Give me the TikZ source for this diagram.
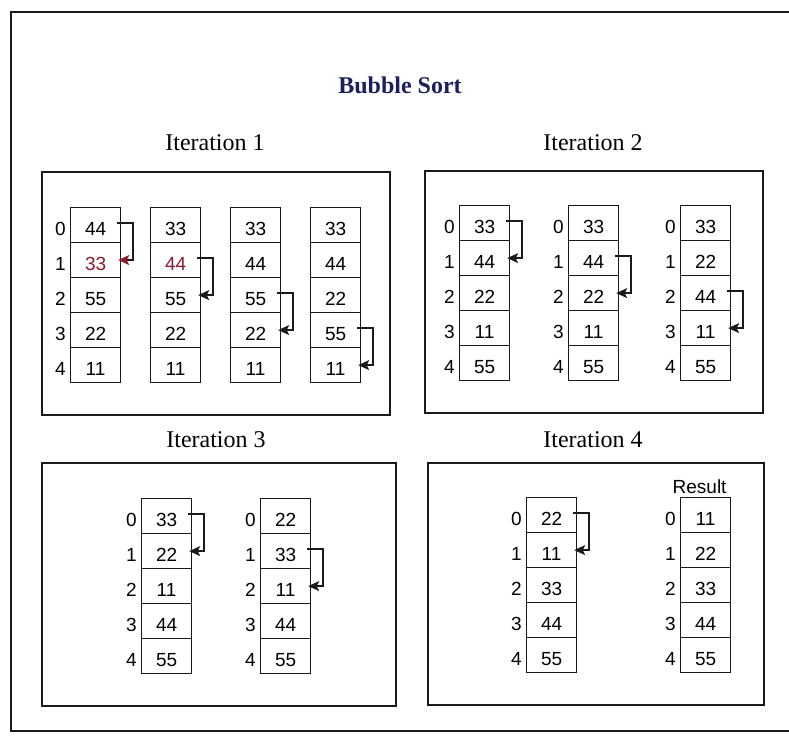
\documentclass[tikz,border=0pt]{standalone}
\usepackage{fontspec}
\setmainfont{Liberation Serif}
\setsansfont{Liberation Sans}
\usetikzlibrary{arrows.meta,positioning}
\definecolor{titleblue}{HTML}{1B1F5C}
\definecolor{markred}{HTML}{8E1B2B}
\definecolor{inkgrey}{HTML}{1A1A1A}
\tikzset{
  cell/.style={draw=inkgrey, line width=1.2pt, minimum width=50pt, minimum height=35pt,
    anchor=north west, inner sep=0pt, text height=21pt, text depth=0pt,
    font=\sffamily\fontsize{19}{19}\selectfont},
  idx/.style={inner sep=0pt, text height=21pt, text depth=0pt,
    font=\sffamily\fontsize{19}{19}\selectfont},
  panel/.style={draw=inkgrey, line width=1.3pt},
  itertitle/.style={font=\fontsize{24}{26}\selectfont},
  swaparrow/.style={line width=1.6pt, draw=inkgrey, -{Stealth[length=11pt,width=10pt,inset=2.5pt]}}
}
% one array of five cells, named #1-0 ... #1-4
\newcommand{\bubblecol}[4]{%
  \foreach \v [count=\i from 0] in {#4} {
    \node[cell] (#1-\i) at ({#2},{#3+35*\i}) {\v};
  }%
}
\newcommand{\bubbleidx}[1]{%
  \foreach \i in {0,...,4} {
    \node[idx, left=4pt of #1-\i] (#1-n\i) {\i};
  }%
}
\newcommand{\bubbleswap}[4][]{%
  \draw[swaparrow,#1] ([xshift=-4pt,yshift=2pt]#2-#3.east) -- ++(16pt,0) |- ([xshift=-3pt]#2-#4.east);
}

\begin{document}
\begin{tikzpicture}[x=1pt,y=-1pt]
  \useasboundingbox (0,0) rectangle (789,736);
  \draw[panel] (789,12) -- (11,12) -- (11,731) -- (789,731);
  \node[font=\bfseries\fontsize{24}{26}\selectfont, text=titleblue] (sorttitle) at (400,85) {Bubble Sort};

  % Iteration 1
  \node[itertitle] (title1) at (215,143) {Iteration 1};
  \draw[panel] (42,172) rectangle (390,415);
  \bubblecol{a}{70}{207}{44,{\textcolor{markred}{33}},55,22,11}
  \bubblecol{b}{150}{207}{33,{\textcolor{markred}{44}},55,22,11}
  \bubblecol{c}{230}{207}{33,44,55,22,11}
  \bubblecol{d}{310}{207}{33,44,22,55,11}
  \bubbleidx{a}
  \bubbleswap[-{Stealth[length=11pt,width=10pt,inset=2.5pt,color=markred]}]{a}{0}{1}
  \bubbleswap{b}{1}{2}
  \bubbleswap{c}{2}{3}
  \bubbleswap{d}{3}{4}

  % Iteration 2
  \node[itertitle] (title2) at (593,143) {Iteration 2};
  \draw[panel] (425,171) rectangle (763,413);
  \bubblecol{e}{459}{205}{33,44,22,11,55}
  \bubblecol{f}{568}{205}{33,44,22,11,55}
  \bubblecol{g}{680}{205}{33,22,44,11,55}
  \bubbleidx{e}
  \bubbleidx{f}
  \bubbleidx{g}
  \bubbleswap{e}{0}{1}
  \bubbleswap{f}{1}{2}
  \bubbleswap{g}{2}{3}

  % Iteration 3
  \node[itertitle] (title3) at (216,440) {Iteration 3};
  \draw[panel] (42,463) rectangle (396,706);
  \bubblecol{h}{141}{498}{33,22,11,44,55}
  \bubblecol{k}{260}{498}{22,33,11,44,55}
  \bubbleidx{h}
  \bubbleidx{k}
  \bubbleswap{h}{0}{1}
  \bubbleswap{k}{1}{2}

  % Iteration 4
  \node[itertitle] (title4) at (593,440) {Iteration 4};
  \draw[panel] (428,463) rectangle (764,705);
  \bubblecol{m}{526}{497}{22,11,33,44,55}
  \bubblecol{res}{680}{497}{11,22,33,44,55}
  \bubbleidx{m}
  \bubbleidx{res}
  \bubbleswap{m}{0}{1}
  \node[idx, text height=, above=3pt of res-0, xshift=-6pt] (resultlabel) {Result};
\end{tikzpicture}
\end{document}
